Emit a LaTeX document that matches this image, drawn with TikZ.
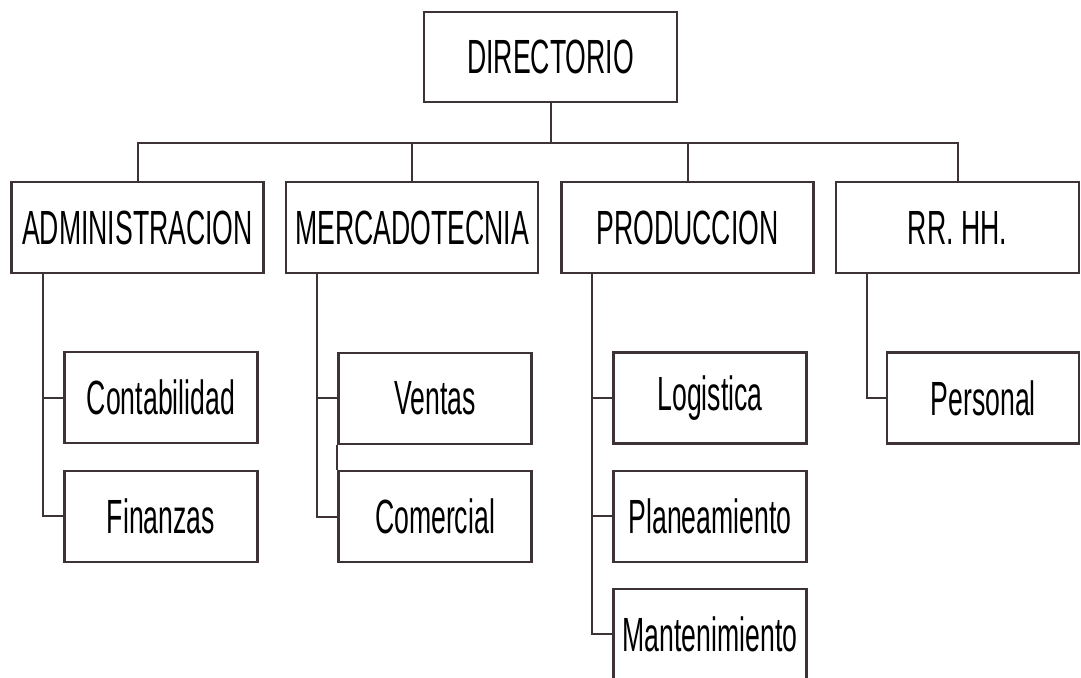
\documentclass[tikz,border=0pt]{standalone}
\usepackage{fontspec}
\setmainfont[FakeStretch=0.555]{Liberation Sans}
\usetikzlibrary{positioning}
\definecolor{ink}{RGB}{60,50,56}

\begin{document}
\begin{tikzpicture}[
  x=1pt, y=-1pt,
  every node/.style={draw=ink, line width=2.2pt, inner sep=0pt, font=\fontsize{48}{52}\selectfont, text=black},
  unit/.style={minimum width=252pt, minimum height=91pt},
  sub/.style={minimum width=193pt, minimum height=91pt},
  link/.style={draw=ink, line width=2pt}
]
\useasboundingbox (0,0) rectangle (1081,677);

\node[minimum width=253pt, minimum height=90pt] (dir) at (550.5,57) {DIRECTORIO};

\node[unit] (adm) at (137.5,227.5) {ADMINISTRACION};
\node[unit] (mer) at (412,227.5) {MERCADOTECNIA};
\node[unit] (pro) at (687.5,227.5) {PRODUCCION};
\node[unit, minimum width=243pt] (rrh) at (957.5,227.5) {RR. HH.};

\node[sub] (con) at (161,397.5) {Contabilidad};
\node[sub] (fin) at (161,516.2) {Finanzas};
\node[sub] (ven) at (435,398.3) {Ventas};
\node[sub] (com) at (435,516.7) {Comercial};
\node[sub] (log) at (710,398) {Logistica};
\node[sub] (pla) at (710,516.4) {Planeamiento};
\node[sub] (man) at (710,634.2) {Mantenimiento};
\node[sub, minimum width=192pt] (per) at (983.2,398) {Personal};

\coordinate (bus) at (550.5,143);
\draw[link] (dir.south) -- (bus);
\draw[link] (adm.north) |- (rrh.north |- bus) -- (rrh.north);
\draw[link] (mer.north) -- (mer.north |- bus);
\draw[link] (pro.north) -- (pro.north |- bus);

\coordinate (admr) at (43,273);
\coordinate (merr) at (317,273);
\coordinate (pror) at (592,273);
\coordinate (rrhr) at (866.5,273);

\draw[link] (admr) |- (fin.west);
\draw[link] (admr |- con.west) -- (con.west);
\draw[link] (merr) |- (com.west);
\draw[link] (merr |- ven.west) -- (ven.west);
\draw[link] (ven.south west) -- (com.north west);
\draw[link] (pror) |- (man.west);
\draw[link] (pror |- log.west) -- (log.west);
\draw[link] (pror |- pla.west) -- (pla.west);
\draw[link] (rrhr) |- (per.west);

\end{tikzpicture}
\end{document}
